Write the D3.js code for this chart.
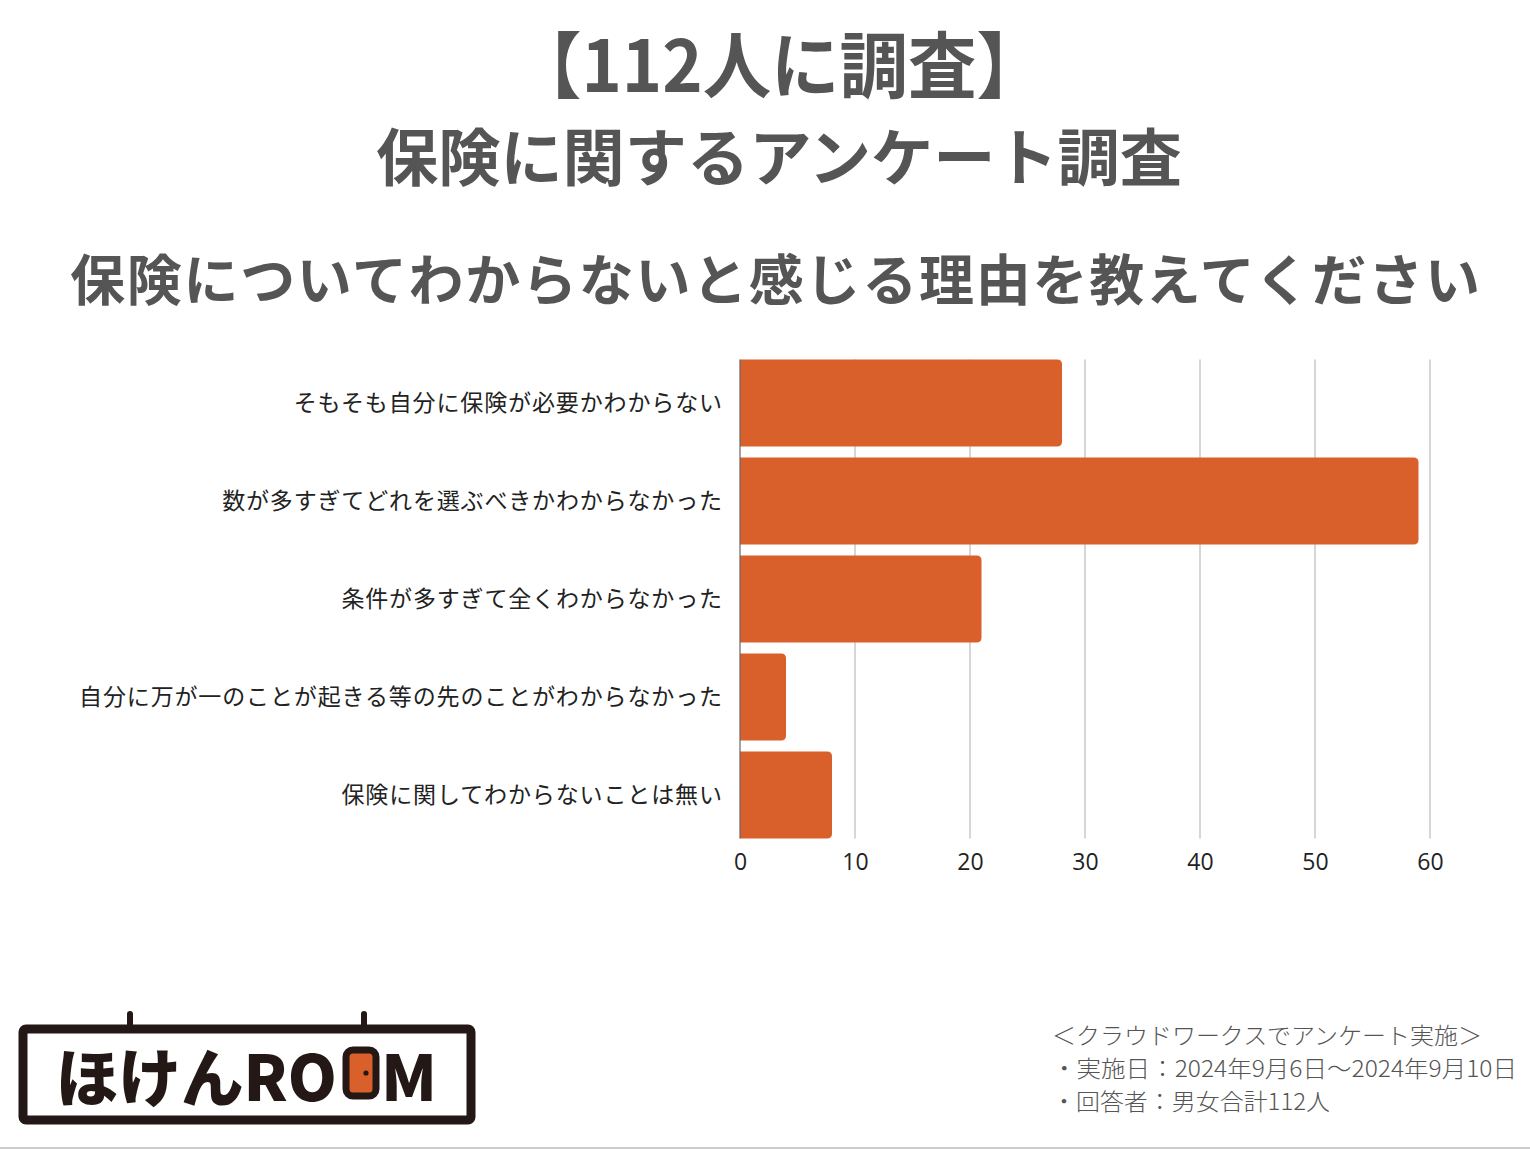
<!DOCTYPE html>
<html><head><meta charset="utf-8">
<script src="https://cdn.jsdelivr.net/npm/d3@7"></script>
<style>
html,body{margin:0;padding:0;background:#fff;}
svg{display:block;}
</style></head>
<body>
<script>
const categories = [
  "そもそも自分に保険が必要かわからない",
  "数が多すぎてどれを選ぶべきかわからなかった",
  "条件が多すぎて全くわからなかった",
  "自分に万が一のことが起きる等の先のことがわからなかった",
  "保険に関してわからないことは無い"
];
const values = [28, 59, 21, 4, 8];
const tickValues = [0, 10, 20, 30, 40, 50, 60];
const titleLines = ["【112人に調査】", "保険に関するアンケート調査"];
const question = "保険についてわからないと感じる理由を教えてください";
const footerLines = ["＜クラウドワークスでアンケート実施＞", "・実施日：2024年9月6日〜2024年9月10日", "・回答者：男女合計112人"];

const W = 1530, H = 1150;
const svg = d3.select("body").append("svg").attr("width", W).attr("height", H);
svg.append("rect").attr("width", W).attr("height", H).attr("fill", "#fff");

const jp = "'Noto Sans CJK JP', 'Noto Sans', sans-serif";

// Titles
svg.append("text").text(titleLines[0])
  .attr("x", 779).attr("y", 60).attr("text-anchor", "middle").attr("dominant-baseline", "central")
  .attr("font-family", jp).attr("font-weight", 700).attr("font-size", 72).attr("fill", "#555")
  .attr("textLength", 532).attr("lengthAdjust", "spacingAndGlyphs");
svg.append("text").text(titleLines[1])
  .attr("x", 779).attr("y", 154).attr("text-anchor", "middle").attr("dominant-baseline", "central")
  .attr("font-family", jp).attr("font-weight", 700).attr("font-size", 62).attr("fill", "#555")
  .attr("textLength", 806).attr("lengthAdjust", "spacingAndGlyphs");
svg.append("text").text(question)
  .attr("x", 775).attr("y", 276).attr("text-anchor", "middle").attr("dominant-baseline", "central")
  .attr("font-family", jp).attr("font-weight", 700).attr("font-size", 55).attr("fill", "#555")
  .attr("textLength", 1410).attr("lengthAdjust", "spacing");

// Chart
const x = d3.scaleLinear().domain([0, 60]).range([740, 1430]);
const y = d3.scaleBand().domain(categories).range([354, 844]).paddingInner(0.112).paddingOuter(0.056);
const yTop = y(categories[0]), yBot = y(categories[categories.length - 1]) + y.bandwidth();

const g = svg.append("g");
g.selectAll("line.grid").data(tickValues.filter(d => d > 0)).join("line")
  .attr("class", "grid")
  .attr("x1", d => x(d)).attr("x2", d => x(d))
  .attr("y1", yTop).attr("y2", yBot)
  .attr("stroke", "#c8c8c8").attr("stroke-width", 1.5);

const r = 5;
g.selectAll("path.bar").data(categories).join("path")
  .attr("class", "bar")
  .attr("fill", "#d95f2b")
  .attr("d", (c, i) => {
    const x0 = x(0), x1 = x(values[i]), y0 = y(c), y1 = y(c) + y.bandwidth();
    return `M${x0},${y0}H${x1 - r}Q${x1},${y0} ${x1},${y0 + r}V${y1 - r}Q${x1},${y1} ${x1 - r},${y1}H${x0}Z`;
  });

g.append("line").attr("x1", x(0)).attr("x2", x(0)).attr("y1", yTop).attr("y2", yBot)
  .attr("stroke", "#666").attr("stroke-width", 1.2);

// category labels
g.selectAll("text.cat").data(categories).join("text")
  .attr("class", "cat")
  .attr("x", 722).attr("y", c => y(c) + y.bandwidth() / 2 - 2)
  .attr("text-anchor", "end").attr("dominant-baseline", "central")
  .attr("font-family", jp).attr("font-size", 23).attr("fill", "#222")
  .attr("textLength", c => c.length * 23.85 - 1).attr("lengthAdjust", "spacing")
  .text(c => c);

// x axis tick labels
const xAxis = d3.axisBottom(x).tickValues(tickValues).tickSize(0).tickPadding(0);
const ax = g.append("g").attr("transform", `translate(0,${yBot + 24})`).call(xAxis);
ax.select(".domain").remove();
ax.selectAll("text").attr("font-family", "'Open Sans', sans-serif").attr("font-size", 23)
  .attr("fill", "#222").attr("dy", "0.32em").attr("dominant-baseline", "auto").attr("y", 0);

// footer
const fy = [1034, 1067, 1100];
const fw = [430, 465, 278];
footerLines.forEach((t, i) => {
  svg.append("text").text(t)
    .attr("x", 1052).attr("y", fy[i]).attr("dominant-baseline", "central")
    .attr("font-family", jp).attr("font-weight", 300).attr("font-size", 23).attr("fill", "#555")
    .attr("textLength", fw[i]).attr("lengthAdjust", "spacingAndGlyphs");
});

// bottom rule
svg.append("line").attr("x1", 0).attr("x2", W).attr("y1", 1148).attr("y2", 1148)
  .attr("stroke", "#bbb").attr("stroke-width", 1.5);

// logo
const logo = svg.append("g");
const ink = "#231815";
logo.append("line").attr("x1", 130).attr("x2", 130).attr("y1", 1014).attr("y2", 1028).attr("stroke", ink).attr("stroke-width", 6).attr("stroke-linecap", "round");
logo.append("line").attr("x1", 364).attr("x2", 364).attr("y1", 1014).attr("y2", 1028).attr("stroke", ink).attr("stroke-width", 6).attr("stroke-linecap", "round");
logo.append("rect").attr("x", 23).attr("y", 1029).attr("width", 448).attr("height", 91).attr("rx", 3)
  .attr("fill", "#fff").attr("stroke", ink).attr("stroke-width", 9);
logo.append("text").text("ほけんRO")
  .attr("x", 56).attr("y", 1073).attr("dominant-baseline", "central")
  .attr("font-family", "'Noto Sans CJK JP', sans-serif").attr("font-weight", 900).attr("font-size", 63).attr("fill", ink)
  .attr("textLength", 281).attr("lengthAdjust", "spacingAndGlyphs");
logo.append("rect").attr("x", 346).attr("y", 1050).attr("width", 30).attr("height", 46).attr("rx", 7)
  .attr("fill", "#d95f2b").attr("stroke", ink).attr("stroke-width", 7);
logo.append("circle").attr("cx", 366).attr("cy", 1073).attr("r", 2.6).attr("fill", ink);
logo.append("text").text("M")
  .attr("x", 381).attr("y", 1073).attr("dominant-baseline", "central")
  .attr("font-family", "'Noto Sans CJK JP', sans-serif").attr("font-weight", 900).attr("font-size", 63).attr("fill", ink)
  .attr("textLength", 56).attr("lengthAdjust", "spacingAndGlyphs");
</script>
</body></html>
